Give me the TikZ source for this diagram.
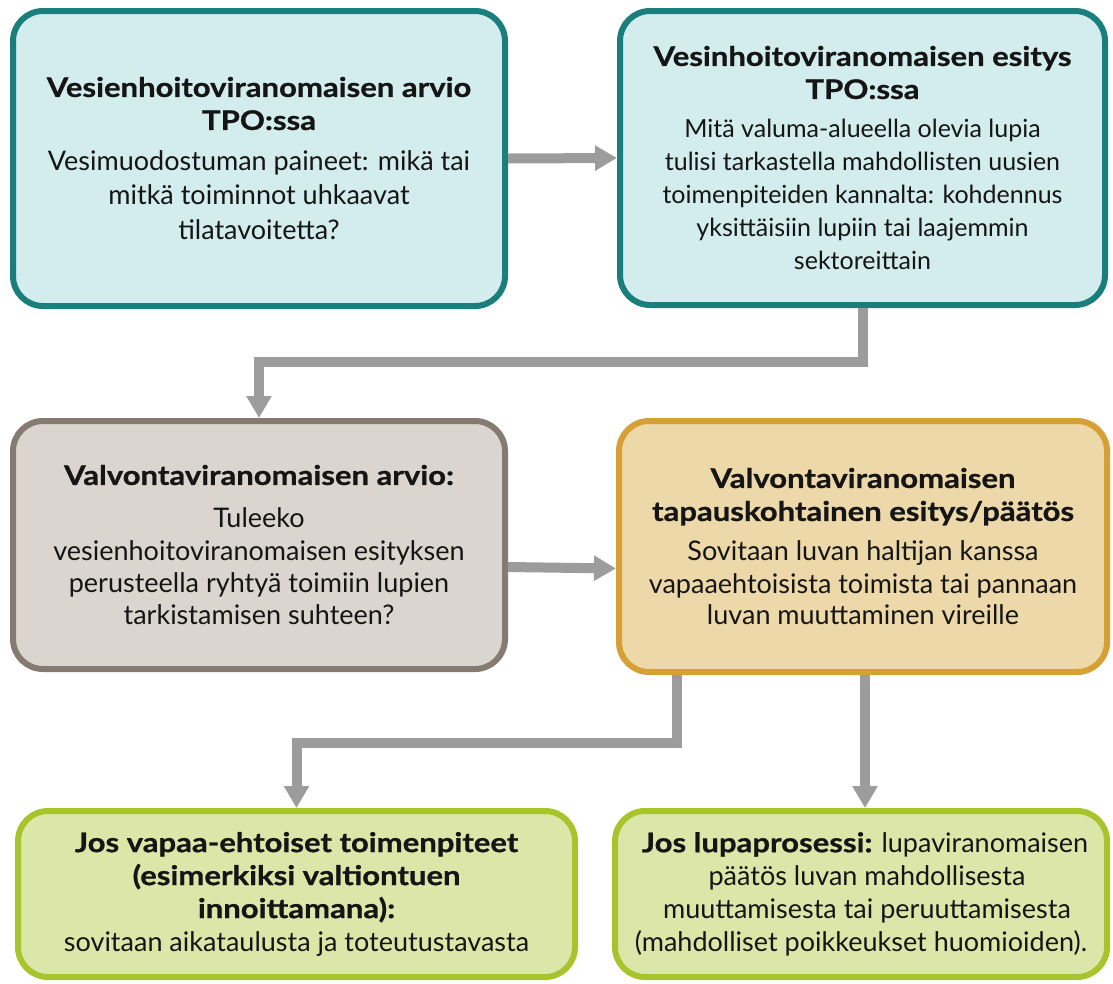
\documentclass[tikz,border=0pt]{standalone}
\usepackage{fontspec}
\setmainfont{Lato}[BoldFeatures={FakeStretch=1.15,FakeBold=0.8}]
\usetikzlibrary{arrows.meta}
\definecolor{tealfill}{HTML}{D3EDEE}
\definecolor{tealdraw}{HTML}{1A7F7C}
\definecolor{grayfill}{HTML}{DBD5CF}
\definecolor{graydraw}{HTML}{857B70}
\definecolor{orangefill}{HTML}{ECD8A8}
\definecolor{orangedraw}{HTML}{D7A035}
\definecolor{greenfill}{HTML}{DDE6A9}
\definecolor{greendraw}{HTML}{A8C42C}
\definecolor{arrowgray}{HTML}{9C9C9C}
\definecolor{txt}{HTML}{151515}
\newcommand{\smallbody}{\fontsize{25}{33}\selectfont}
\tikzset{
  box/.style={rounded corners=30pt, line width=6pt, align=center, inner sep=0pt,
    font=\fontsize{27}{33}\selectfont, text=txt},
  tealbox/.style={box, draw=tealdraw, fill=tealfill},
  graybox/.style={box, draw=graydraw, fill=grayfill},
  orangebox/.style={box, draw=orangedraw, fill=orangefill},
  greenbox/.style={box, draw=greendraw, fill=greenfill},
  conn/.style={draw=arrowgray, line width=10pt, -{Triangle[width=24pt,length=22pt]}}
}
\begin{document}
\begin{tikzpicture}[x=1pt,y=-1pt]
\useasboundingbox (0,0) rectangle (1113,983);
\node[tealbox, minimum width=492pt, minimum height=295pt] (b1) at (259,158.5)
  {\textbf{Vesienhoitoviranomaisen arvio}\\ \textbf{TPO:ssa}\\[8pt]
   Vesimuodostuman paineet: mikä tai\\[1pt] mitkä toiminnot uhkaavat\\[2pt] tilatavoitetta?};
\node[tealbox, minimum width=485pt, minimum height=294pt] (b2) at (862.5,158)
  {\textbf{Vesinhoitoviranomaisen esitys}\\ \textbf{TPO:ssa}\\[6pt]
   {\smallbody Mitä valuma-alueella olevia lupia}\\ {\smallbody tulisi tarkastella mahdollisten uusien}\\
   {\smallbody toimenpiteiden kannalta: kohdennus}\\ {\smallbody yksittäisiin lupiin tai laajemmin}\\
   {\smallbody sektoreittain}};
\node[graybox, minimum width=492pt, minimum height=248pt] (b3) at (259,545)
  {\textbf{Valvontaviranomaisen arvio:}\\[10pt]
   Tuleeko\\ vesienhoitoviranomaisen esityksen\\[-1pt] perusteella ryhtyä toimiin lupien\\[-1pt]
   tarkistamisen suhteen?};
\node[orangebox, minimum width=488pt, minimum height=251pt] (b4) at (863,546.5)
  {\textbf{Valvontaviranomaisen}\\ \textbf{tapauskohtainen esitys/päätös}\\[7pt]
   Sovitaan luvan haltijan kanssa\\ vapaaehtoisista toimista tai pannaan\\[-2pt]
   luvan muuttaminen vireille};
\node[greenbox, minimum width=557pt, minimum height=166pt] (b5) at (296.5,894)
  {\textbf{Jos vapaa-ehtoiset toimenpiteet}\\ \textbf{(esimerkiksi valtiontuen}\\
   \textbf{innoittamana):}\\ sovitaan aikataulusta ja toteutustavasta};
\node[greenbox, minimum width=492pt, minimum height=166pt] (b6) at (861,894)
  {\hspace*{8pt}\textbf{Jos lupaprosessi:} lupaviranomaisen\\ \hspace*{12pt}päätös luvan mahdollisesta\\
   \hspace*{12pt}muuttamisesta tai peruuttamisesta\\
   (mahdolliset poikkeukset huomioiden).};
\draw[conn] (b1.east) -- (b2.west);
\draw[conn] (b2.south) -- ++(0,54) -| (b3.north);
\draw[conn] ([yshift=-22pt]b3.east) -- ([yshift=-22pt]b4.west);
\draw[conn] ([xshift=-186pt]b4.south) -- ++(0,68) -| (b5.north);
\draw[conn] ([xshift=2pt]b4.south) -- ([xshift=2pt]b4.south |- b6.north);
\end{tikzpicture}
\end{document}
